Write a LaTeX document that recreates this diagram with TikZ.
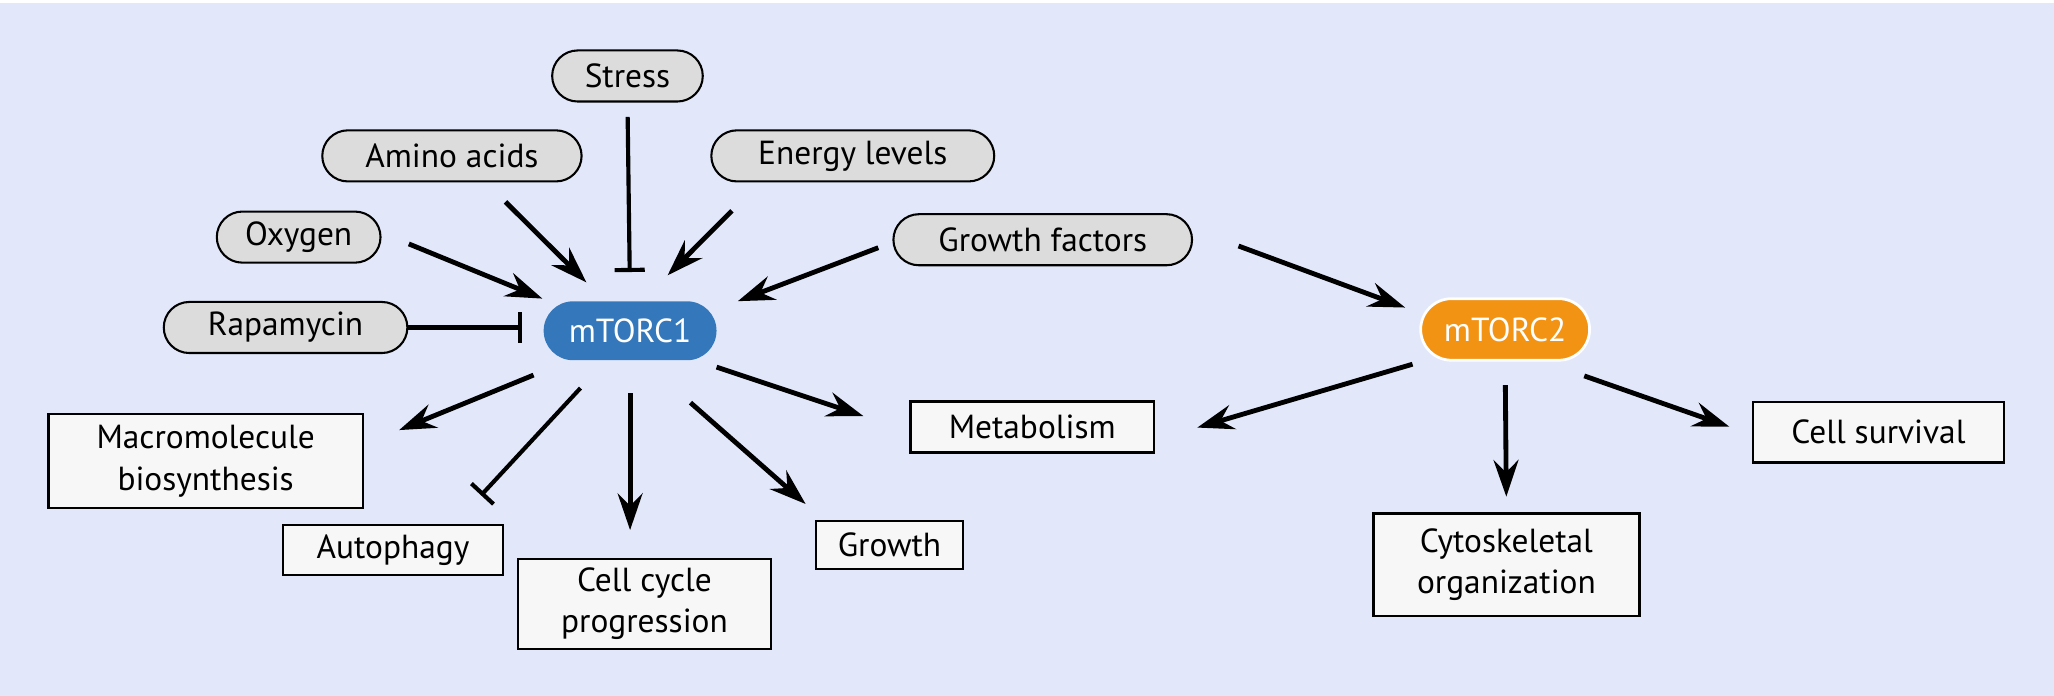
\documentclass[tikz,border=0pt]{standalone}
\usepackage{fontspec}
\setmainfont{PT Sans}
\usetikzlibrary{arrows.meta}
\definecolor{bgblue}{HTML}{E2E8FA}
\definecolor{pillgray}{HTML}{DCDCDC}
\definecolor{boxwhite}{HTML}{F7F7F7}
\definecolor{mtorblue}{HTML}{3478BB}
\definecolor{mtororange}{HTML}{F39313}

\begin{document}
\begin{tikzpicture}[x=0.02cm, y=-0.02cm,
   every node/.style={inner sep=0pt, font=\fontsize{14.5}{18}\selectfont, align=center},
   signal/.style={draw, fill=pillgray, line width=0.9pt, rounded corners=0.39cm, minimum height=0.78cm},
   complex/.style={text=white, minimum height=0.9cm, rounded corners=0.45cm},
   outcome/.style={draw, fill=boxwhite, line width=1pt},
   activate/.style={-{Stealth[length=0.56cm, width=0.38cm, inset=0.19cm]}, line width=2.1pt},
   inhibit/.style={-{Bar[width=0.46cm]}, line width=1.8pt}]

% background
\fill[white] (0,0) rectangle (1568,531);
\fill[bgblue] (0,2.5) rectangle (1568,531);
\useasboundingbox (0,0) rectangle (1568,531);

% upstream signals
\node[signal, minimum width=2.30cm] (stress) at (479,58) {Stress};
\node[signal, minimum width=3.96cm] (amino) at (345,119) {Amino acids};
\node[signal, minimum width=4.32cm] (energy) at (651,119) {Energy levels};
\node[signal, minimum width=2.50cm] (oxy) at (228,181) {Oxygen};
\node[signal, minimum width=4.56cm] (gf) at (796,183) {Growth factors};
\node[signal, minimum width=3.72cm] (rapa) at (218,250) {Rapamycin};

% the two complexes
\node[complex, fill=mtorblue, minimum width=2.64cm] (m1) at (481,252.5) {mTORC1};
\node[complex, fill=mtororange, draw=white, line width=1.2pt, minimum width=2.58cm,
      minimum height=0.94cm, rounded corners=0.47cm] (m2) at (1149,251.5) {mTORC2};

% outcomes
\node[outcome, minimum width=4.80cm, minimum height=1.44cm] (macro) at (157,352) {Macromolecule\\biosynthesis};
\node[outcome, minimum width=3.36cm, minimum height=0.76cm] (auto) at (300,420) {Autophagy};
\node[outcome, minimum width=3.86cm, minimum height=1.38cm] (cc) at (492,461) {Cell cycle\\progression};
\node[outcome, minimum width=2.24cm, minimum height=0.74cm] (growth) at (679,416) {Growth};
\node[outcome, minimum width=3.72cm, minimum height=0.78cm] (metab) at (788,326) {Metabolism};
\node[outcome, minimum width=4.06cm, minimum height=1.56cm] (cyto) at (1150,431) {Cytoskeletal\\organization};
\node[outcome, minimum width=3.84cm, minimum height=0.92cm] (surv) at (1434,330) {Cell survival};

% inputs to mTORC1
\draw[inhibit, shorten <=0.22cm, shorten >=0.44cm] (stress.south) -- (m1.north);
\draw[activate, shorten <=0.42cm, shorten >=0.40cm] (amino.-38) -- (m1.130);
\draw[activate, shorten <=0.61cm, shorten >=0.55cm] (energy.196) -- (m1.68);
\draw[activate, shorten <=0.45cm, shorten >=0.09cm] (oxy.3) -- (m1.160);
\draw[activate, shorten <=0.23cm, shorten >=0.34cm] (gf.181) -- (m1.14);
\draw[inhibit, shorten >=0.32cm] (rapa.east) -- (rapa.east -| m1.west);

% input to mTORC2
\draw[activate, shorten <=0.74cm, shorten >=0.23cm] (gf.4) -- (m2.169);

% mTORC1 outputs
\draw[activate, shorten <=0.58cm, shorten >=0.58cm] (m1.206) -- (macro.6);
\draw[inhibit, shorten <=0.57cm, shorten >=0.60cm] (m1.231) -- (auto.23);
\draw[activate, shorten <=0.50cm, shorten >=0.42cm] (m1.south) -- (m1.south |- cc.north);
\draw[activate, shorten <=0.97cm, shorten >=0.36cm] (m1.-67) -- (growth.159);
\draw[activate, shorten <=0.31cm, shorten >=0.74cm] (m1.-24) -- (metab.182);

% mTORC2 outputs
\draw[activate, shorten <=0.14cm, shorten >=0.67cm] (m2.201) -- (metab.-6);
\draw[activate, shorten <=0.36cm, shorten >=0.24cm] (m2.south) -- (cyto.north);
\draw[activate, shorten <=0.66cm, shorten >=0.36cm] (m2.-40) -- (surv.181);

\end{tikzpicture}
\end{document}
